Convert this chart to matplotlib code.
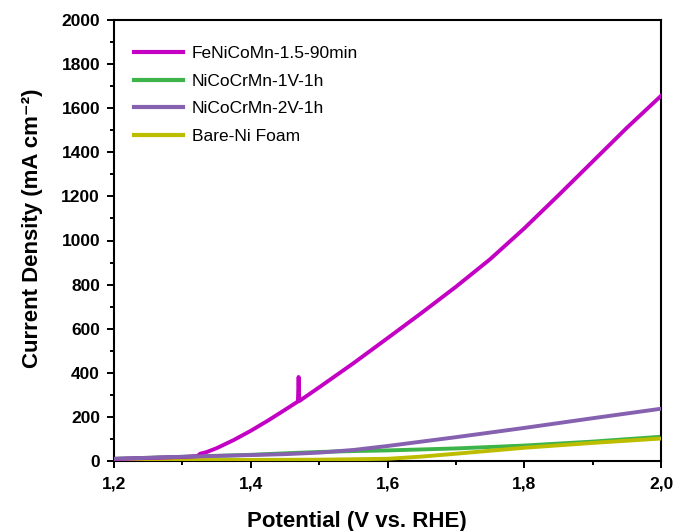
import matplotlib
matplotlib.use("Agg")
import matplotlib.pyplot as plt
from matplotlib.ticker import MultipleLocator, FuncFormatter

plt.rcParams['font.family'] = ['Liberation Sans', 'DejaVu Sans']

# FeNiCoMn-1.5-90min
v_fe = [1.20, 1.30, 1.322, 1.326, 1.335, 1.35, 1.375, 1.40, 1.425, 1.45, 1.469, 1.470, 1.471,
        1.50, 1.55, 1.60, 1.65, 1.70, 1.75, 1.80, 1.85, 1.90, 1.95, 2.00]
j_fe = [9, 18, 22, 33, 40, 58, 95, 137, 183, 232, 270, 381, 272,
        334, 443, 557, 672, 790, 915, 1055, 1205, 1358, 1511, 1656]

# NiCoCrMn-1V-1h
v_g = [1.20, 1.30, 1.40, 1.45, 1.50, 1.55, 1.60, 1.70, 1.80, 1.90, 2.00]
j_g = [10, 19, 28, 35, 41, 45, 48, 57, 70, 88, 110]

# NiCoCrMn-2V-1h
v_p = [1.20, 1.30, 1.40, 1.45, 1.50, 1.55, 1.60, 1.70, 1.80, 1.90, 2.00]
j_p = [10, 19, 27, 31, 38, 50, 68, 108, 150, 194, 237]

# Bare-Ni Foam
v_y = [1.20, 1.30, 1.40, 1.50, 1.60, 1.65, 1.70, 1.80, 1.90, 2.00]
j_y = [3, 4, 5, 6, 10, 20, 33, 60, 82, 102]

fig = plt.figure(figsize=(6.75, 5.31), dpi=100)
ax = fig.add_axes([114 / 675, 1 - 461 / 531, (661 - 114) / 675, (461 - 20) / 531])

ax.plot(v_fe, j_fe, color='#C300C3', lw=2.8, label='FeNiCoMn-1.5-90min', zorder=4)
ax.plot(v_g, j_g, color='#3DB449', lw=2.8, label='NiCoCrMn-1V-1h', zorder=2)
ax.plot(v_p, j_p, color='#8561B0', lw=2.8, label='NiCoCrMn-2V-1h', zorder=5)
ax.plot(v_y, j_y, color='#BDBD00', lw=2.8, label='Bare-Ni Foam', zorder=3)

ax.set_xlim(1.2, 2.0)
ax.set_ylim(0, 2000)
ax.xaxis.set_major_locator(MultipleLocator(0.2))
ax.xaxis.set_minor_locator(MultipleLocator(0.1))
ax.yaxis.set_major_locator(MultipleLocator(200))
ax.yaxis.set_minor_locator(MultipleLocator(100))
ax.xaxis.set_major_formatter(FuncFormatter(lambda x, p: f"{x:.1f}".replace('.', ',')))
ax.tick_params(which='major', direction='out', length=5, width=1.4, labelsize=12.5)
ax.tick_params(axis='x', which='major', pad=6)
ax.tick_params(axis='y', which='major', pad=5)
ax.tick_params(which='minor', direction='out', length=3, width=1.4)
for lab in ax.get_xticklabels() + ax.get_yticklabels():
    lab.set_fontweight('bold')
for s in ax.spines.values():
    s.set_linewidth(1.5)

ax.set_xlabel('Potential (V vs. RHE)', fontsize=16, fontweight='bold')
ax.xaxis.set_label_coords((357 - 114) / 547, (461 - 511) / 441)
ax.set_ylabel('Current Density (mA cm\u207b\u00b2)', fontsize=16, fontweight='bold')
ax.yaxis.set_label_coords((43 - 114) / 547, (461 - 228) / 441)

leg = ax.legend(loc='upper left', frameon=False, fontsize=12.5, handlelength=2.8,
                borderaxespad=0, borderpad=0, labelspacing=0.72, handletextpad=0.52,
                bbox_to_anchor=(20 / 547, (461 - 46) / 441))
for l in leg.get_lines():
    l.set_linewidth(3)

fig.savefig('out.png', dpi=100)
